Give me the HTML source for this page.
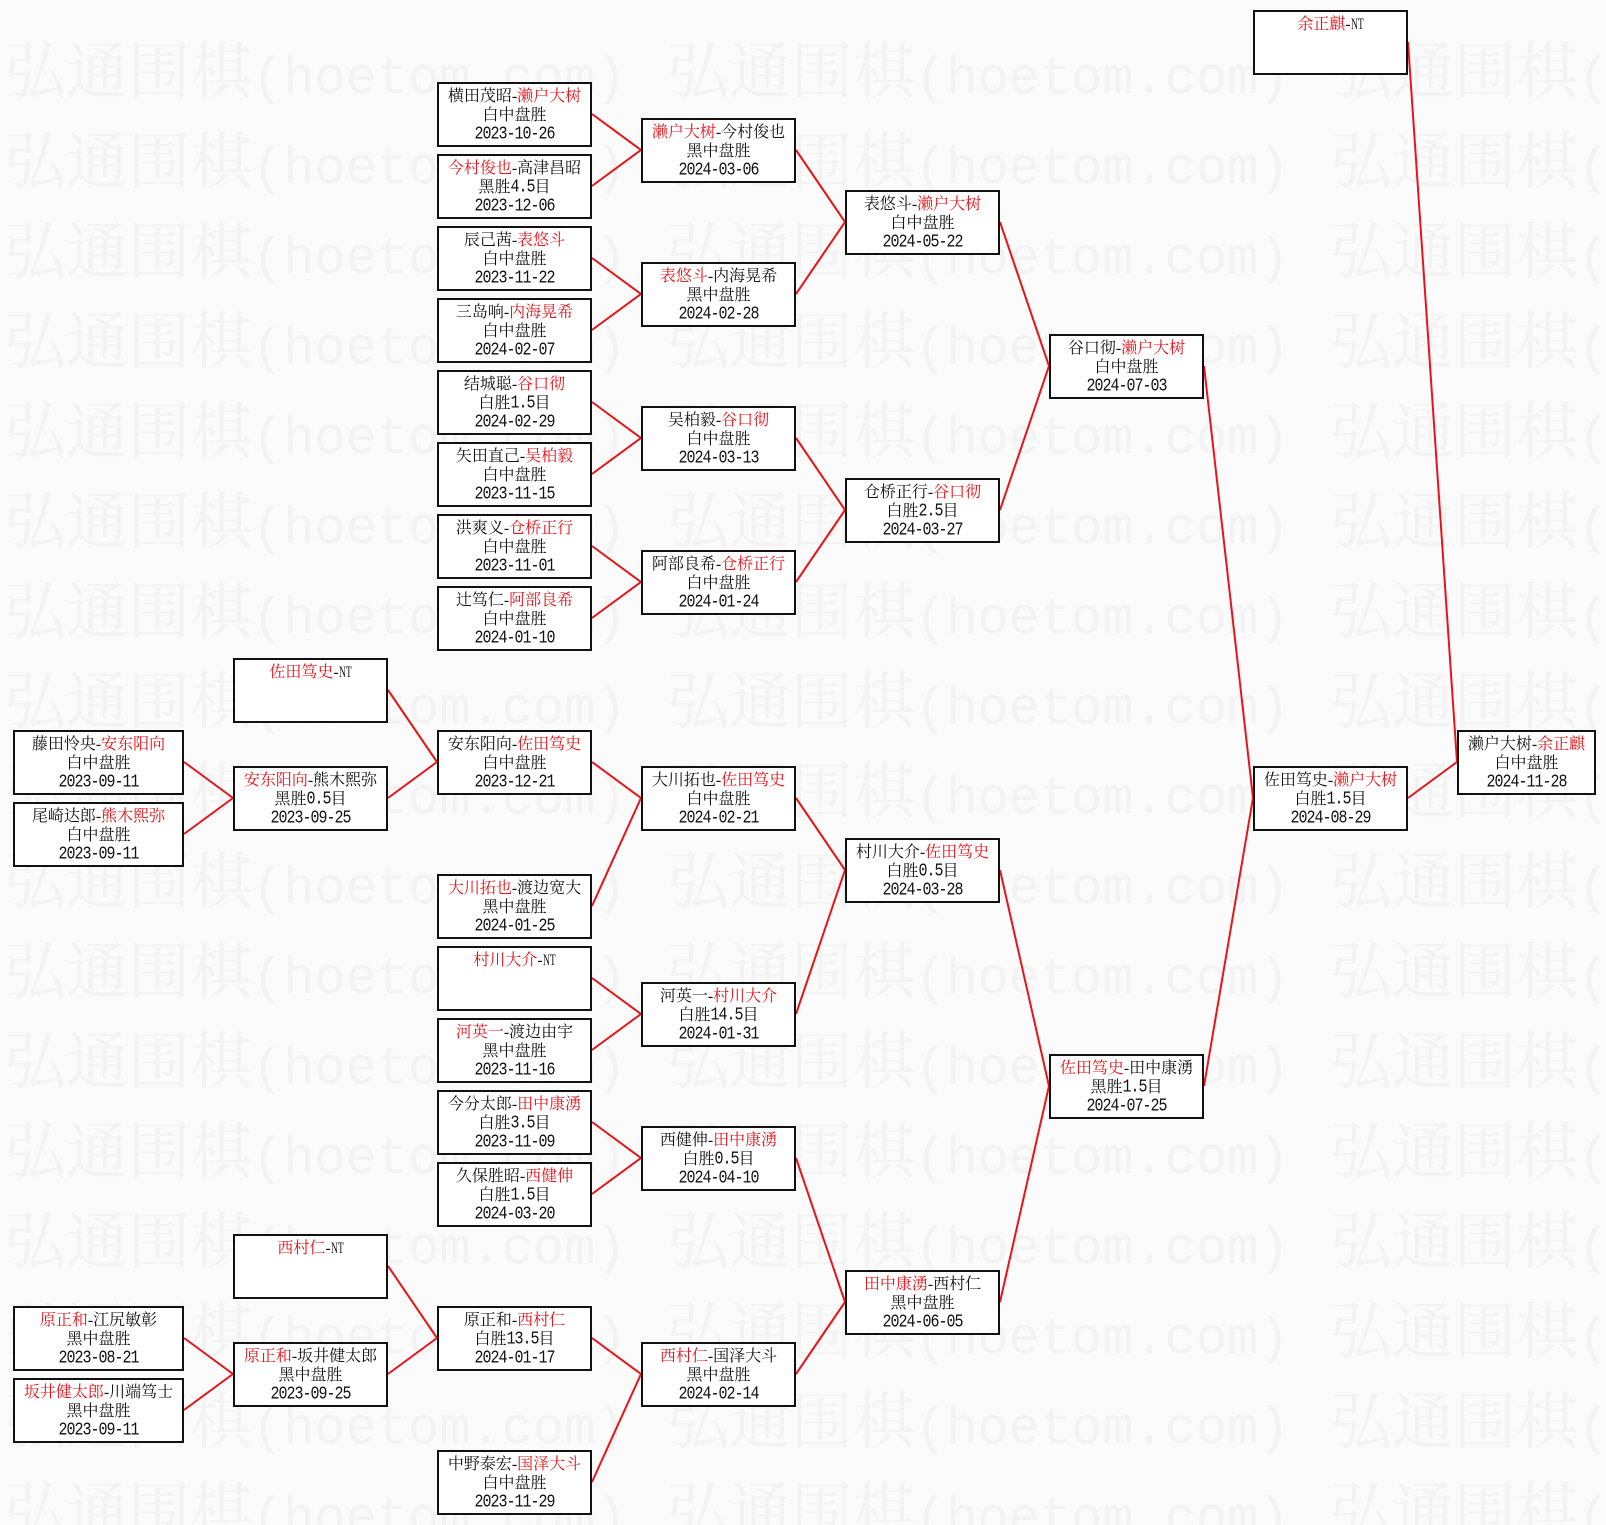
<!DOCTYPE html>
<html><head><meta charset="utf-8">
<style>
html,body{margin:0;padding:0}
body{width:1606px;height:1525px;background:#fbfbfb;position:relative;overflow:hidden;font-family:"Liberation Serif","Noto Serif CJK SC",serif}
svg.bg{position:absolute;left:0;top:0}
.wc{font-family:"Noto Serif CJK SC","Noto Sans CJK SC",serif;font-size:62px}
.wa{font-family:"Liberation Mono",monospace;font-size:52px}
.b{position:absolute;width:155px;height:65px;box-sizing:border-box;border:2px solid #111;background:#fff;padding-top:3px;text-align:center;font-size:16px;line-height:19px;color:#111;white-space:nowrap}
.l{height:19px;overflow:visible}
i{font-style:normal;color:#e8141b}
b{font-weight:normal;font-family:"Liberation Mono",monospace;font-size:15px;letter-spacing:-1px;display:inline-block;transform:scaleY(1.22);transform-origin:50% 78%}
.nt{display:inline-block;font-size:16px;transform:scaleX(.6);transform-origin:0 50%;margin-right:-8.5px}
.A{left:13px;width:171px}
.B{left:233px}.C{left:437px}.D{left:641px}.E{left:845px}.F{left:1049px}.G{left:1253px}
.H{left:1457px;width:139px}
</style></head><body>
<svg class="bg" width="1606" height="1525" viewBox="0 0 1606 1525">
<g fill="#f3f3f3">
<text y="93"><tspan x="4" class="wc">弘通围棋</tspan><tspan class="wa">(hoetom.com)</tspan><tspan x="667" class="wc">弘通围棋</tspan><tspan class="wa">(hoetom.com)</tspan><tspan x="1330" class="wc">弘通围棋</tspan><tspan class="wa">(hoetom.com)</tspan></text>
<text y="183"><tspan x="4" class="wc">弘通围棋</tspan><tspan class="wa">(hoetom.com)</tspan><tspan x="667" class="wc">弘通围棋</tspan><tspan class="wa">(hoetom.com)</tspan><tspan x="1330" class="wc">弘通围棋</tspan><tspan class="wa">(hoetom.com)</tspan></text>
<text y="273"><tspan x="4" class="wc">弘通围棋</tspan><tspan class="wa">(hoetom.com)</tspan><tspan x="667" class="wc">弘通围棋</tspan><tspan class="wa">(hoetom.com)</tspan><tspan x="1330" class="wc">弘通围棋</tspan><tspan class="wa">(hoetom.com)</tspan></text>
<text y="363"><tspan x="4" class="wc">弘通围棋</tspan><tspan class="wa">(hoetom.com)</tspan><tspan x="667" class="wc">弘通围棋</tspan><tspan class="wa">(hoetom.com)</tspan><tspan x="1330" class="wc">弘通围棋</tspan><tspan class="wa">(hoetom.com)</tspan></text>
<text y="453"><tspan x="4" class="wc">弘通围棋</tspan><tspan class="wa">(hoetom.com)</tspan><tspan x="667" class="wc">弘通围棋</tspan><tspan class="wa">(hoetom.com)</tspan><tspan x="1330" class="wc">弘通围棋</tspan><tspan class="wa">(hoetom.com)</tspan></text>
<text y="543"><tspan x="4" class="wc">弘通围棋</tspan><tspan class="wa">(hoetom.com)</tspan><tspan x="667" class="wc">弘通围棋</tspan><tspan class="wa">(hoetom.com)</tspan><tspan x="1330" class="wc">弘通围棋</tspan><tspan class="wa">(hoetom.com)</tspan></text>
<text y="633"><tspan x="4" class="wc">弘通围棋</tspan><tspan class="wa">(hoetom.com)</tspan><tspan x="667" class="wc">弘通围棋</tspan><tspan class="wa">(hoetom.com)</tspan><tspan x="1330" class="wc">弘通围棋</tspan><tspan class="wa">(hoetom.com)</tspan></text>
<text y="723"><tspan x="4" class="wc">弘通围棋</tspan><tspan class="wa">(hoetom.com)</tspan><tspan x="667" class="wc">弘通围棋</tspan><tspan class="wa">(hoetom.com)</tspan><tspan x="1330" class="wc">弘通围棋</tspan><tspan class="wa">(hoetom.com)</tspan></text>
<text y="813"><tspan x="4" class="wc">弘通围棋</tspan><tspan class="wa">(hoetom.com)</tspan><tspan x="667" class="wc">弘通围棋</tspan><tspan class="wa">(hoetom.com)</tspan><tspan x="1330" class="wc">弘通围棋</tspan><tspan class="wa">(hoetom.com)</tspan></text>
<text y="903"><tspan x="4" class="wc">弘通围棋</tspan><tspan class="wa">(hoetom.com)</tspan><tspan x="667" class="wc">弘通围棋</tspan><tspan class="wa">(hoetom.com)</tspan><tspan x="1330" class="wc">弘通围棋</tspan><tspan class="wa">(hoetom.com)</tspan></text>
<text y="993"><tspan x="4" class="wc">弘通围棋</tspan><tspan class="wa">(hoetom.com)</tspan><tspan x="667" class="wc">弘通围棋</tspan><tspan class="wa">(hoetom.com)</tspan><tspan x="1330" class="wc">弘通围棋</tspan><tspan class="wa">(hoetom.com)</tspan></text>
<text y="1083"><tspan x="4" class="wc">弘通围棋</tspan><tspan class="wa">(hoetom.com)</tspan><tspan x="667" class="wc">弘通围棋</tspan><tspan class="wa">(hoetom.com)</tspan><tspan x="1330" class="wc">弘通围棋</tspan><tspan class="wa">(hoetom.com)</tspan></text>
<text y="1173"><tspan x="4" class="wc">弘通围棋</tspan><tspan class="wa">(hoetom.com)</tspan><tspan x="667" class="wc">弘通围棋</tspan><tspan class="wa">(hoetom.com)</tspan><tspan x="1330" class="wc">弘通围棋</tspan><tspan class="wa">(hoetom.com)</tspan></text>
<text y="1263"><tspan x="4" class="wc">弘通围棋</tspan><tspan class="wa">(hoetom.com)</tspan><tspan x="667" class="wc">弘通围棋</tspan><tspan class="wa">(hoetom.com)</tspan><tspan x="1330" class="wc">弘通围棋</tspan><tspan class="wa">(hoetom.com)</tspan></text>
<text y="1353"><tspan x="4" class="wc">弘通围棋</tspan><tspan class="wa">(hoetom.com)</tspan><tspan x="667" class="wc">弘通围棋</tspan><tspan class="wa">(hoetom.com)</tspan><tspan x="1330" class="wc">弘通围棋</tspan><tspan class="wa">(hoetom.com)</tspan></text>
<text y="1443"><tspan x="4" class="wc">弘通围棋</tspan><tspan class="wa">(hoetom.com)</tspan><tspan x="667" class="wc">弘通围棋</tspan><tspan class="wa">(hoetom.com)</tspan><tspan x="1330" class="wc">弘通围棋</tspan><tspan class="wa">(hoetom.com)</tspan></text>
<text y="1533"><tspan x="4" class="wc">弘通围棋</tspan><tspan class="wa">(hoetom.com)</tspan><tspan x="667" class="wc">弘通围棋</tspan><tspan class="wa">(hoetom.com)</tspan><tspan x="1330" class="wc">弘通围棋</tspan><tspan class="wa">(hoetom.com)</tspan></text>
</g>
<path fill="none" stroke="#e8141b" stroke-width="2" d="
M592 114L641 150M592 186L641 150
M592 258L641 294M592 330L641 294
M592 402L641 438M592 474L641 438
M592 546L641 582M592 618L641 582
M796 150L845 222M796 294L845 222
M796 438L845 510M796 582L845 510
M1000 222L1049 366M1000 510L1049 366
M1204 366L1253 798M1204 1086L1253 798
M1408 42L1457 762M1408 798L1457 762
M184 762L233 798M184 834L233 798
M388 690L437 762M388 798L437 762
M592 762L641 798M592 906L641 798
M592 978L641 1014M592 1050L641 1014
M592 1122L641 1158M592 1194L641 1158
M796 798L845 870M796 1014L845 870
M796 1158L845 1302M796 1374L845 1302
M1000 870L1049 1086M1000 1302L1049 1086
M184 1338L233 1374M184 1410L233 1374
M388 1266L437 1338M388 1374L437 1338
M592 1338L641 1374M592 1482L641 1374"/>
</svg>

<!-- top section -->
<div class="b C" style="top:82px"><div class="l">横田茂昭-<i>濑户大树</i></div><div class="l">白中盘胜</div><div class="l"><b>2023-10-26</b></div></div>
<div class="b C" style="top:154px"><div class="l"><i>今村俊也</i>-高津昌昭</div><div class="l">黑胜<b>4.5</b>目</div><div class="l"><b>2023-12-06</b></div></div>
<div class="b C" style="top:226px"><div class="l">辰己茜-<i>表悠斗</i></div><div class="l">白中盘胜</div><div class="l"><b>2023-11-22</b></div></div>
<div class="b C" style="top:298px"><div class="l">三岛响-<i>内海晃希</i></div><div class="l">白中盘胜</div><div class="l"><b>2024-02-07</b></div></div>
<div class="b C" style="top:370px"><div class="l">结城聪-<i>谷口彻</i></div><div class="l">白胜<b>1.5</b>目</div><div class="l"><b>2024-02-29</b></div></div>
<div class="b C" style="top:442px"><div class="l">矢田直己-<i>吴柏毅</i></div><div class="l">白中盘胜</div><div class="l"><b>2023-11-15</b></div></div>
<div class="b C" style="top:514px"><div class="l">洪爽义-<i>仓桥正行</i></div><div class="l">白中盘胜</div><div class="l"><b>2023-11-01</b></div></div>
<div class="b C" style="top:586px"><div class="l">辻笃仁-<i>阿部良希</i></div><div class="l">白中盘胜</div><div class="l"><b>2024-01-10</b></div></div>

<div class="b D" style="top:118px"><div class="l"><i>濑户大树</i>-今村俊也</div><div class="l">黑中盘胜</div><div class="l"><b>2024-03-06</b></div></div>
<div class="b D" style="top:262px"><div class="l"><i>表悠斗</i>-内海晃希</div><div class="l">黑中盘胜</div><div class="l"><b>2024-02-28</b></div></div>
<div class="b D" style="top:406px"><div class="l">吴柏毅-<i>谷口彻</i></div><div class="l">白中盘胜</div><div class="l"><b>2024-03-13</b></div></div>
<div class="b D" style="top:550px"><div class="l">阿部良希-<i>仓桥正行</i></div><div class="l">白中盘胜</div><div class="l"><b>2024-01-24</b></div></div>

<div class="b E" style="top:190px"><div class="l">表悠斗-<i>濑户大树</i></div><div class="l">白中盘胜</div><div class="l"><b>2024-05-22</b></div></div>
<div class="b E" style="top:478px"><div class="l">仓桥正行-<i>谷口彻</i></div><div class="l">白胜<b>2.5</b>目</div><div class="l"><b>2024-03-27</b></div></div>

<div class="b F" style="top:334px"><div class="l">谷口彻-<i>濑户大树</i></div><div class="l">白中盘胜</div><div class="l"><b>2024-07-03</b></div></div>

<div class="b G" style="top:10px"><div class="l"><i>余正麒</i>-<span class="nt">NT</span></div></div>
<div class="b G" style="top:766px"><div class="l">佐田笃史-<i>濑户大树</i></div><div class="l">白胜<b>1.5</b>目</div><div class="l"><b>2024-08-29</b></div></div>
<div class="b H" style="top:730px"><div class="l">濑户大树-<i>余正麒</i></div><div class="l">白中盘胜</div><div class="l"><b>2024-11-28</b></div></div>

<!-- bottom section -->
<div class="b B" style="top:658px"><div class="l"><i>佐田笃史</i>-<span class="nt">NT</span></div></div>
<div class="b A" style="top:730px"><div class="l">藤田怜央-<i>安东阳向</i></div><div class="l">白中盘胜</div><div class="l"><b>2023-09-11</b></div></div>
<div class="b A" style="top:802px"><div class="l">尾崎达郎-<i>熊木熙弥</i></div><div class="l">白中盘胜</div><div class="l"><b>2023-09-11</b></div></div>
<div class="b B" style="top:766px"><div class="l"><i>安东阳向</i>-熊木熙弥</div><div class="l">黑胜<b>0.5</b>目</div><div class="l"><b>2023-09-25</b></div></div>
<div class="b C" style="top:730px"><div class="l">安东阳向-<i>佐田笃史</i></div><div class="l">白中盘胜</div><div class="l"><b>2023-12-21</b></div></div>
<div class="b C" style="top:874px"><div class="l"><i>大川拓也</i>-渡边宽大</div><div class="l">黑中盘胜</div><div class="l"><b>2024-01-25</b></div></div>
<div class="b C" style="top:946px"><div class="l"><i>村川大介</i>-<span class="nt">NT</span></div></div>
<div class="b C" style="top:1018px"><div class="l"><i>河英一</i>-渡边由宇</div><div class="l">黑中盘胜</div><div class="l"><b>2023-11-16</b></div></div>
<div class="b C" style="top:1090px"><div class="l">今分太郎-<i>田中康湧</i></div><div class="l">白胜<b>3.5</b>目</div><div class="l"><b>2023-11-09</b></div></div>
<div class="b C" style="top:1162px"><div class="l">久保胜昭-<i>西健伸</i></div><div class="l">白胜<b>1.5</b>目</div><div class="l"><b>2024-03-20</b></div></div>

<div class="b D" style="top:766px"><div class="l">大川拓也-<i>佐田笃史</i></div><div class="l">白中盘胜</div><div class="l"><b>2024-02-21</b></div></div>
<div class="b D" style="top:982px"><div class="l">河英一-<i>村川大介</i></div><div class="l">白胜<b>14.5</b>目</div><div class="l"><b>2024-01-31</b></div></div>
<div class="b D" style="top:1126px"><div class="l">西健伸-<i>田中康湧</i></div><div class="l">白胜<b>0.5</b>目</div><div class="l"><b>2024-04-10</b></div></div>

<div class="b E" style="top:838px"><div class="l">村川大介-<i>佐田笃史</i></div><div class="l">白胜<b>0.5</b>目</div><div class="l"><b>2024-03-28</b></div></div>
<div class="b F" style="top:1054px"><div class="l"><i>佐田笃史</i>-田中康湧</div><div class="l">黑胜<b>1.5</b>目</div><div class="l"><b>2024-07-25</b></div></div>

<div class="b B" style="top:1234px"><div class="l"><i>西村仁</i>-<span class="nt">NT</span></div></div>
<div class="b A" style="top:1306px"><div class="l"><i>原正和</i>-江尻敏彰</div><div class="l">黑中盘胜</div><div class="l"><b>2023-08-21</b></div></div>
<div class="b A" style="top:1378px"><div class="l"><i>坂井健太郎</i>-川端笃士</div><div class="l">黑中盘胜</div><div class="l"><b>2023-09-11</b></div></div>
<div class="b B" style="top:1342px"><div class="l"><i>原正和</i>-坂井健太郎</div><div class="l">黑中盘胜</div><div class="l"><b>2023-09-25</b></div></div>
<div class="b C" style="top:1306px"><div class="l">原正和-<i>西村仁</i></div><div class="l">白胜<b>13.5</b>目</div><div class="l"><b>2024-01-17</b></div></div>
<div class="b C" style="top:1450px"><div class="l">中野泰宏-<i>国泽大斗</i></div><div class="l">白中盘胜</div><div class="l"><b>2023-11-29</b></div></div>
<div class="b D" style="top:1342px"><div class="l"><i>西村仁</i>-国泽大斗</div><div class="l">黑中盘胜</div><div class="l"><b>2024-02-14</b></div></div>
<div class="b E" style="top:1270px"><div class="l"><i>田中康湧</i>-西村仁</div><div class="l">黑中盘胜</div><div class="l"><b>2024-06-05</b></div></div>
</body></html>
